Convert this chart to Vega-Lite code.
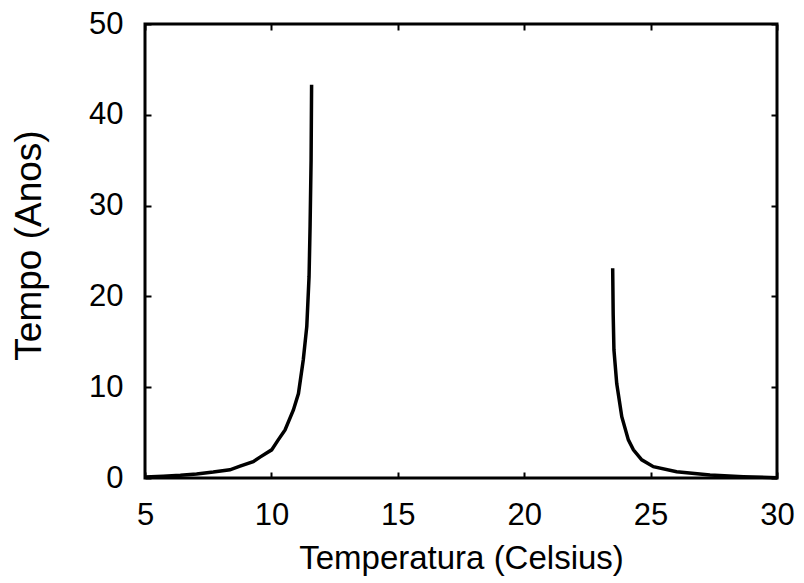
{
  "$schema": "https://vega.github.io/schema/vega-lite/v6.json",
  "width": 632,
  "height": 454,
  "autosize": "none",
  "padding": {"left": 145, "top": 24, "right": 27, "bottom": 105},
  "background": "white",
  "config": {
    "view": {"stroke": "black", "strokeWidth": 3},
    "axis": {
      "domain": false,
      "grid": false,
      "labelFont": "Liberation Sans",
      "titleFont": "Liberation Sans",
      "labelColor": "black",
      "titleColor": "black",
      "tickColor": "black",
      "titleFontWeight": "normal",
      "labelFontSize": 31,
      "tickSize": -6,
      "tickWidth": 2
    }
  },
  "data": {
    "values": [
      {"s": "a", "t": 5.0, "v": 0.1},
      {"s": "a", "t": 5.72, "v": 0.2},
      {"s": "a", "t": 6.4, "v": 0.3},
      {"s": "a", "t": 7.04, "v": 0.45},
      {"s": "a", "t": 7.7, "v": 0.65},
      {"s": "a", "t": 8.36, "v": 0.9},
      {"s": "a", "t": 8.76, "v": 1.3},
      {"s": "a", "t": 9.28, "v": 1.8},
      {"s": "a", "t": 9.55, "v": 2.3},
      {"s": "a", "t": 10.01, "v": 3.1},
      {"s": "a", "t": 10.27, "v": 4.2},
      {"s": "a", "t": 10.54, "v": 5.3},
      {"s": "a", "t": 10.87, "v": 7.5},
      {"s": "a", "t": 11.07, "v": 9.3},
      {"s": "a", "t": 11.26, "v": 13.0},
      {"s": "a", "t": 11.4, "v": 16.7},
      {"s": "a", "t": 11.49, "v": 22.2},
      {"s": "a", "t": 11.53, "v": 27.7},
      {"s": "a", "t": 11.57, "v": 35.0},
      {"s": "a", "t": 11.59, "v": 43.3},
      {"s": "b", "t": 23.5, "v": 23.1},
      {"s": "b", "t": 23.52, "v": 18.0},
      {"s": "b", "t": 23.55, "v": 14.1},
      {"s": "b", "t": 23.66, "v": 10.4},
      {"s": "b", "t": 23.86, "v": 6.75},
      {"s": "b", "t": 24.12, "v": 4.2},
      {"s": "b", "t": 24.32, "v": 3.1},
      {"s": "b", "t": 24.65, "v": 2.0},
      {"s": "b", "t": 25.11, "v": 1.25},
      {"s": "b", "t": 26.03, "v": 0.7},
      {"s": "b", "t": 27.35, "v": 0.33},
      {"s": "b", "t": 28.67, "v": 0.15},
      {"s": "b", "t": 30.0, "v": 0.03}
    ]
  },
  "layer": [
    {
      "mark": {"type": "line", "color": "black", "strokeWidth": 3.5},
      "encoding": {
        "x": {
          "field": "t", "type": "quantitative",
          "scale": {"domain": [5, 30], "nice": false},
          "axis": {"values": [5, 10, 15, 20, 25, 30], "title": "Temperatura (Celsius)", "titleFontSize": 33, "titleFontWeight": "normal", "labelPadding": 28, "titlePadding": 12, "labelFlush": false}
        },
        "y": {
          "field": "v", "type": "quantitative",
          "scale": {"domain": [0, 50], "nice": false},
          "axis": {"values": [0, 10, 20, 30, 40, 50], "title": "Tempo (Anos)", "titleFontSize": 37, "titleFontWeight": "normal", "labelPadding": 28, "titlePadding": 40, "titleY": 221, "labelFlush": false}
        },
        "detail": {"field": "s"}
      }
    },
    {
      "mark": {"type": "line", "opacity": 0},
      "encoding": {
        "x": {
          "field": "t", "type": "quantitative",
          "scale": {"domain": [5, 30], "nice": false},
          "axis": {"orient": "top", "values": [5, 10, 15, 20, 25, 30], "labels": false, "title": null}
        },
        "y": {
          "field": "v", "type": "quantitative",
          "scale": {"domain": [0, 50], "nice": false},
          "axis": {"orient": "right", "values": [0, 10, 20, 30, 40, 50], "labels": false, "title": null}
        },
        "detail": {"field": "s"}
      }
    }
  ],
  "resolve": {"axis": {"x": "independent", "y": "independent"}}
}
